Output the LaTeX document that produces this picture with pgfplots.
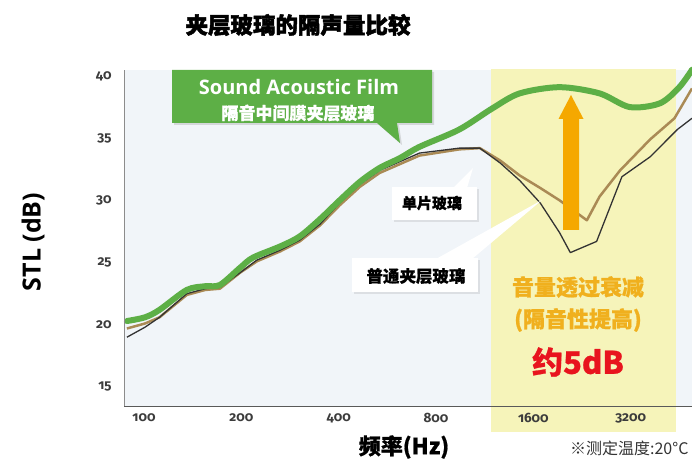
\documentclass[border=0pt]{standalone}
\usepackage{fontspec}
\setmainfont{Open Sans}
\newfontfamily\cjk{Noto Sans CJK SC}
\newfontfamily\cjkheavy{Noto Sans CJK SC}[FakeBold=2]
\newfontfamily\cjkbold{Noto Sans CJK SC}[FakeBold=0.8]
\newfontfamily\tickfont{Fira Sans}[Numbers=OldStyle]
\usepackage{pgfplots}
\pgfplotsset{compat=1.18}
\usetikzlibrary{shadows,arrows.meta}
\definecolor{sgreen}{RGB}{93,175,70}
\definecolor{tanc}{RGB}{170,138,85}
\definecolor{pbg}{RGB}{241,245,249}
\definecolor{hyellow}{RGB}{246,244,186}
\definecolor{orng}{RGB}{245,168,0}
\definecolor{gold}{RGB}{240,176,30}
\definecolor{redt}{RGB}{232,20,30}
\definecolor{tickc}{RGB}{60,60,60}
\begin{document}
\begin{tikzpicture}
\begin{axis}[
  at={(0,0)}, anchor=south west,
  scale only axis, width=568pt, height=336pt,
  xmin=-0.205, xmax=5.63, ymin=13.47, ymax=40.48,
  axis x line=bottom, axis y line=left,
  x axis line style={-, draw=black!65, line width=0.8pt},
  y axis line style={-, draw=black!45, line width=0.8pt},
  xtick={0,1,2,3,4,5}, xticklabels={100,200,400,800,1600,3200},
  ytick={15,20,25,30,35,40},
  major tick length=0pt, tick style={draw=none},
  /pgf/number format/assume math mode=true,
  ticklabel style={font=\tickfont\bfseries\fontsize{13.5}{13.5}\selectfont, text=tickc},
  xticklabel style={yshift=-4pt},
  yticklabel style={xshift=-9pt},
  axis background/.style={fill=pbg},
  clip=false, axis on top,
]
\fill[hyellow] (axis cs:3.57,11.4) rectangle (axis cs:5.47,40.56);
\addplot[tanc, line width=2.5pt, line join=round] coordinates {
(-0.175,19.7) (0.01,20.1) (0.16,20.6) (0.44,22.4) (0.63,22.8) (0.78,22.9) (0.99,24.2) (1.16,25.1) (1.40,25.9) (1.60,26.7) (1.81,28.0) (2.01,29.6) (2.22,31.1) (2.42,32.2) (2.83,33.6) (3.24,34.1) (3.45,34.2) (3.66,33.2) (3.86,32.0) (4.07,31.0) (4.27,30.0) (4.55,28.4) (4.68,30.3) (4.89,32.4) (5.20,34.9) (5.45,36.6) (5.63,39.0)};
\addplot[black!80, line width=1.3pt, line join=round] coordinates {
(-0.175,19.0) (0.01,19.8) (0.16,20.6) (0.44,22.5) (0.63,22.9) (0.78,23.0) (0.99,24.2) (1.16,25.2) (1.40,26.0) (1.60,26.8) (1.81,28.1) (2.01,29.8) (2.22,31.3) (2.42,32.4) (2.83,33.8) (3.24,34.2) (3.45,34.2) (3.66,33.0) (3.86,31.6) (4.07,29.8) (4.27,27.4) (4.38,25.8) (4.65,26.7) (4.91,31.9) (5.20,33.5) (5.48,35.7) (5.63,36.6)};
\addplot[sgreen, line width=6pt, smooth, tension=0.5, line cap=round] coordinates {
(-0.175,20.3) (0.01,20.6) (0.16,21.2) (0.44,22.8) (0.63,23.1) (0.78,23.2) (0.99,24.6) (1.12,25.4) (1.40,26.3) (1.60,27.1) (1.81,28.5) (2.01,30.0) (2.22,31.5) (2.42,32.6) (2.63,33.4) (2.83,34.3) (3.24,35.7) (3.58,37.4) (3.86,38.6) (4.27,39.1) (4.68,38.6) (4.99,37.5) (5.30,37.8) (5.50,39.1) (5.63,40.5)};
\end{axis}
\begin{scope}[x=1pt,y=1pt]
% orange arrow
\fill[orng] (439,176) -- (455,176) -- (455,287) -- (459.5,287) -- (447,311) -- (434.5,287) -- (439,287) -- cycle;
% green callout
\fill[sgreen, drop shadow={opacity=0.25, shadow xshift=2pt, shadow yshift=-2pt}]
  (48,283) -- (253,283) -- (276,263) -- (273,283) -- (308,283) -- (308,336) -- (48,336) -- cycle;
\node[text=white, font=\bfseries\fontsize{20}{20}\selectfont] at (175,319) {Sound Acoustic Film};
\node[text=white, font=\cjkbold\fontsize{17}{17}\selectfont\bfseries] at (174,293) {隔音中间膜夹层玻璃};
% single glass callout
\fill[white] (329,218) -- (349,238) -- (343,218) -- cycle;
\fill[white, drop shadow={opacity=0.18, shadow xshift=2pt, shadow yshift=-2pt}]
  (268,186) rectangle (353,219);
\node[font=\cjkbold\bfseries\fontsize{15}{15}\selectfont] at (308,203) {单片玻璃};
% laminated glass callout
\fill[white] (312,147) -- (418,206) -- (348,147) -- cycle;
\fill[white, drop shadow={opacity=0.18, shadow xshift=2pt, shadow yshift=-2pt}]
  (228,114) rectangle (354,148);
\node[font=\cjkbold\bfseries\fontsize{16.5}{16.5}\selectfont] at (292,130) {普通夹层玻璃};
% yellow region texts
\node[text=gold, font=\cjkbold\bfseries\fontsize{22}{22}\selectfont] at (454,119) {音量透过衰减};
\node[text=gold, font=\cjkbold\bfseries\fontsize{22}{22}\selectfont] at (454,86) {(隔音性提高)};
\node[text=redt, font=\cjkbold\bfseries\fontsize{31}{31}\selectfont] at (454,44) {约5dB};
% title and labels
\node[font=\cjkheavy\bfseries\fontsize{22.5}{22.5}\selectfont] at (174,381) {夹层玻璃的隔声量比较};
\node[rotate=90, font=\bfseries\fontsize{25}{25}\selectfont] at (-91,164) {STL (dB)};
\node[font=\cjkbold\bfseries\fontsize{22}{22}\selectfont] at (280,-41) {频率(Hz)};
\node[anchor=east, text=black!80, font=\cjk\fontsize{16}{16}\selectfont] at (568,-42) {※测定温度:20°C};
\pgfresetboundingbox
\path[use as bounding box] (-124,-54) rectangle (568,406);
\end{scope}
\end{tikzpicture}
\end{document}
